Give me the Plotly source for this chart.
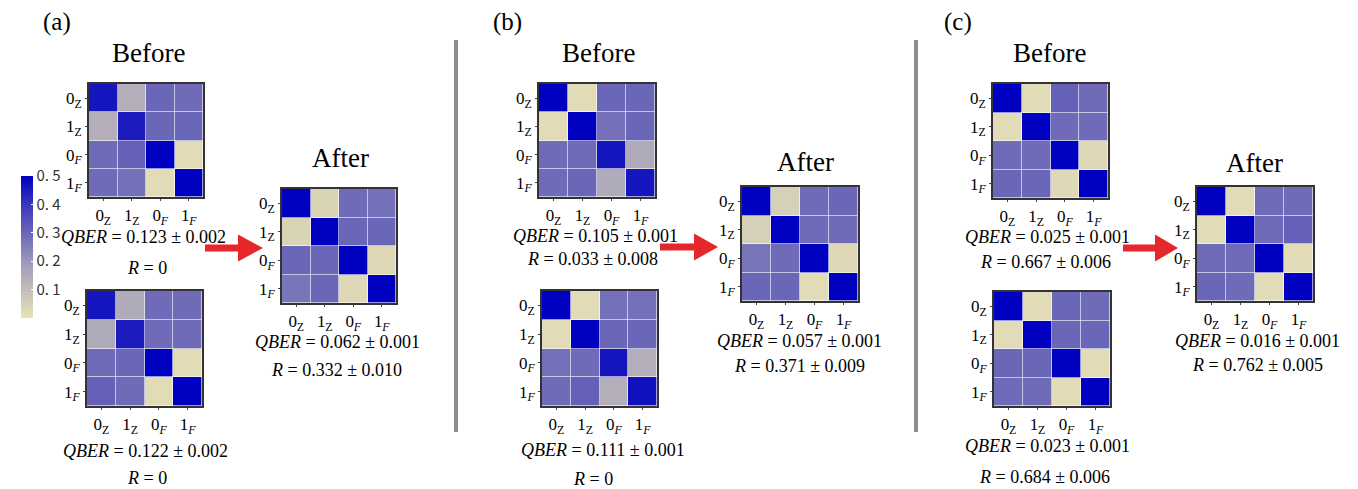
import plotly.graph_objects as go

W, H = 1358, 489

# ---------------- data ----------------
basis_labels = ["0<sub>Z</sub>", "1<sub>Z</sub>", "0<sub><i>F</i></sub>", "1<sub><i>F</i></sub>"]

a_before_top = [[0.46, 0.14, 0.30, 0.29],
                [0.14, 0.45, 0.30, 0.30],
                [0.29, 0.31, 0.50, 0.02],
                [0.29, 0.28, 0.02, 0.50]]
a_before_bottom = [[0.46, 0.15, 0.29, 0.29],
                   [0.15, 0.45, 0.29, 0.29],
                   [0.29, 0.30, 0.50, 0.02],
                   [0.31, 0.29, 0.02, 0.50]]
a_after = [[0.50, 0.04, 0.29, 0.28],
           [0.04, 0.50, 0.30, 0.30],
           [0.30, 0.30, 0.50, 0.03],
           [0.27, 0.30, 0.03, 0.50]]
b_before_top = [[0.50, 0.02, 0.30, 0.30],
                [0.02, 0.50, 0.28, 0.30],
                [0.29, 0.29, 0.46, 0.15],
                [0.29, 0.30, 0.15, 0.46]]
b_before_bottom = [[0.50, 0.02, 0.28, 0.28],
                   [0.02, 0.50, 0.30, 0.30],
                   [0.28, 0.29, 0.46, 0.14],
                   [0.29, 0.31, 0.14, 0.47]]
b_after = [[0.50, 0.05, 0.29, 0.30],
           [0.05, 0.50, 0.29, 0.29],
           [0.27, 0.29, 0.50, 0.03],
           [0.30, 0.30, 0.02, 0.50]]
c_before_top = [[0.50, 0.02, 0.31, 0.29],
                [0.02, 0.50, 0.29, 0.29],
                [0.29, 0.29, 0.50, 0.03],
                [0.30, 0.30, 0.03, 0.50]]
c_before_bottom = [[0.50, 0.02, 0.30, 0.29],
                   [0.02, 0.50, 0.30, 0.30],
                   [0.30, 0.30, 0.50, 0.02],
                   [0.29, 0.29, 0.02, 0.50]]
c_after = [[0.50, 0.02, 0.29, 0.29],
           [0.02, 0.50, 0.29, 0.31],
           [0.29, 0.29, 0.50, 0.02],
           [0.30, 0.29, 0.02, 0.50]]

qber_texts = ["0.123 ± 0.002", "0.122 ± 0.002", "0.062 ± 0.001",
              "0.105 ± 0.001", "0.111 ± 0.001", "0.057 ± 0.001",
              "0.025 ± 0.001", "0.023 ± 0.001", "0.016 ± 0.001"]
r_texts = ["0", "0", "0.332 ± 0.010",
           "0.033 ± 0.008", "0", "0.371 ± 0.009",
           "0.667 ± 0.006", "0.684 ± 0.006", "0.762 ± 0.005"]

cb_tickvals = [0.1, 0.2, 0.3, 0.4, 0.5]
cb_ticktext = ["0. 1", "0. 2", "0. 3", "0. 4", "0. 5"]

# ---------------- layout helpers ----------------
matrices = [a_before_top, a_before_bottom, a_after,
            b_before_top, b_before_bottom, b_after,
            c_before_top, c_before_bottom, c_after]
# pixel boxes: x0, x1, y0, y1
boxes = [(89, 203, 84, 197), (87, 202, 291, 406), (282, 396, 189, 303),
         (539, 655, 84, 197), (542, 657, 291, 406), (742, 858, 187, 301),
         (993, 1108, 84, 198), (994, 1110, 292, 406), (1197, 1313, 187, 301)]
# text centres (x, y_qber, x_r, y_r)
text_pos = [(143, 237, 147, 268), (145, 451, 147, 478), (337, 342, 336, 370),
            (595, 236, 592, 259), (603, 450, 593, 479), (799, 341, 799, 366),
            (1047, 237, 1045, 262), (1047, 446, 1044, 477), (1257, 341, 1257, 365)]

serif = "Liberation Serif, Times New Roman, DejaVu Serif, serif"
colorscale = [[0.0, "#e9e3b7"], [0.2, "#c3bdb8"], [0.4, "#9c98bc"],
              [0.6, "#6a66b8"], [0.8, "#3836bc"], [1.0, "#0000c0"]]

def px(x):
    return x / W

def py(y):
    return 1 - y / H

fig = go.Figure()
layout = dict(
    width=W, height=H,
    margin=dict(l=0, r=0, t=0, b=0),
    paper_bgcolor="white", plot_bgcolor="white",
    showlegend=False,
    font=dict(family=serif, color="black"),
    coloraxis=dict(
        cmin=0, cmax=0.5, colorscale=colorscale,
        colorbar=dict(
            x=px(11), xanchor="left", y=py(166), yanchor="top",
            len=(328 - 166) / H, lenmode="fraction",
            thickness=12, thicknessmode="pixels",
            outlinewidth=0,
            tickvals=cb_tickvals, ticktext=cb_ticktext,
            ticks="inside", ticklen=2, tickcolor="white", tickwidth=1,
            tickfont=dict(family="Noto Sans CJK SC", size=15, color="#333"),
        ),
    ),
)

for i, (m, box) in enumerate(zip(matrices, boxes)):
    k = "" if i == 0 else str(i + 1)
    x0, x1, y0, y1 = box
    fig.add_trace(go.Heatmap(
        z=m, x=[0, 1, 2, 3], y=[0, 1, 2, 3],
        coloraxis="coloraxis", xgap=0.6, ygap=0.6,
        xaxis="x" + k, yaxis="y" + k, hoverinfo="z",
    ))
    axcommon = dict(
        showgrid=False, zeroline=False, showline=True, mirror=True,
        linecolor="#333", linewidth=1.5,
        ticks="outside", ticklen=2, tickcolor="#444",
        tickvals=[0, 1, 2, 3], ticktext=basis_labels,
        tickfont=dict(family=serif, size=17, color="black"),
        fixedrange=True,
    )
    layout["xaxis" + k] = dict(axcommon, domain=[px(x0), px(x1)],
                               anchor="y" + k, range=[-0.5, 3.5])
    layout["yaxis" + k] = dict(axcommon, domain=[py(y1), py(y0)],
                               anchor="x" + k, range=[3.5, -0.5])

annotations = []
def add_text(text, x, y, size):
    annotations.append(dict(text=text, x=px(x), y=py(y), xref="paper", yref="paper",
                            xanchor="center", yanchor="middle", showarrow=False,
                            font=dict(family=serif, size=size, color="black")))

for (xq, yq, xr, yr), q, r in zip(text_pos, qber_texts, r_texts):
    add_text("<i>QBER</i> = " + q, xq, yq, 18)
    add_text("<i>R</i> = " + r, xr, yr, 18)

for lab, x in [("(a)", 57), ("(b)", 507), ("(c)", 958)]:
    add_text(lab, x, 22, 25)
for x in [148, 598, 1049]:
    add_text("Before", x, 53, 27)
for x, y in [(340, 158), (805, 162), (1254, 163)]:
    add_text("After", x, y, 27)

layout["annotations"] = annotations

shapes = []
for x in [456, 916]:
    shapes.append(dict(type="line", xref="paper", yref="paper",
                       x0=px(x), x1=px(x), y0=py(40), y1=py(432),
                       line=dict(color="#8e8e8e", width=4)))
red = "#e5262b"
for xs, xb, xt, yc in [(205, 238, 263, 248), (660, 694, 718, 247), (1123, 1155, 1178, 248)]:
    shapes.append(dict(type="rect", xref="paper", yref="paper",
                       x0=px(xs), x1=px(xb + 1), y0=py(yc + 3.5), y1=py(yc - 3.5),
                       fillcolor=red, line=dict(width=0)))
    path = "M {} {} L {} {} L {} {} Z".format(px(xb), py(yc - 13.5), px(xt), py(yc),
                                               px(xb), py(yc + 13.5))
    shapes.append(dict(type="path", xref="paper", yref="paper", path=path,
                       fillcolor=red, line=dict(width=0)))
layout["shapes"] = shapes

fig.update_layout(**layout)
fig.write_html("out.html", config={"displayModeBar": False},
               post_script="document.body.style.margin='0px';")
